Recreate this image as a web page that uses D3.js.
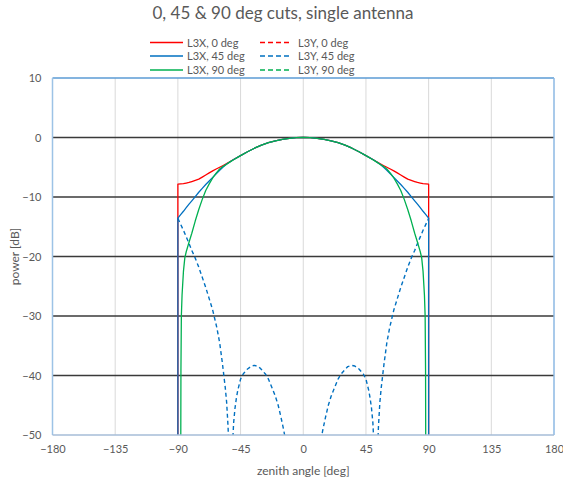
<!DOCTYPE html>
<html>
<head>
<meta charset="utf-8">
<script src="https://cdn.jsdelivr.net/npm/d3@7"></script>
<style>
  html, body { margin: 0; padding: 0; background: #fff; }
  svg { display: block; font-family: Lato, "Open Sans", sans-serif; }
</style>
</head>
<body>
<svg id="chart" width="563" height="486"></svg>
<script>
// ---------- data ----------
const title = "0, 45 & 90 deg cuts, single antenna";
const xTicks = [-180, -135, -90, -45, 0, 45, 90, 135, 180];
const yTicks = [10, 0, -10, -20, -30, -40, -50];
const xLabel = "zenith angle [deg]";
const yLabel = "power [dB]";

// L3X, 0 deg cut
const angles0 = [-90, -90, -88, -86, -84, -82, -80, -77.5, -75, -72.5, -70, -67.5, -65, -62.5, -60, -57.5, -55, -50, -45, -40, -35, -30, -25, -20, -15, -10, -5, 0,
                 5, 10, 15, 20, 25, 30, 35, 40, 45, 50, 55, 57.5, 60, 62.5, 65, 67.5, 70, 72.5, 75, 77.5, 80, 82, 84, 86, 88, 90, 90];
const l3x0 = [-60, -7.85, -7.8, -7.75, -7.65, -7.55, -7.4, -7.2, -7.0, -6.65, -6.3, -5.95, -5.6, -5.3, -5.0, -4.7, -4.4, -3.7, -3.05, -2.4, -1.8, -1.27, -0.87, -0.55, -0.3, -0.13, -0.03, 0,
              -0.03, -0.13, -0.3, -0.55, -0.87, -1.27, -1.8, -2.4, -3.05, -3.7, -4.4, -4.7, -5.0, -5.3, -5.6, -5.95, -6.3, -6.65, -7.0, -7.2, -7.4, -7.55, -7.65, -7.75, -7.8, -7.85, -60];

// L3X, 45 deg cut
const angles45 = [-90, -90, -88, -86, -84, -82, -80, -77.5, -75, -72.5, -70, -67.5, -65, -62.5, -60, -57.5, -55, -50, -45, -40, -35, -30, -25, -20, -15, -10, -5, 0,
                  5, 10, 15, 20, 25, 30, 35, 40, 45, 50, 55, 57.5, 60, 62.5, 65, 67.5, 70, 72.5, 75, 77.5, 80, 82, 84, 86, 88, 90, 90];
const l3x45 = [-60, -13.55, -12.95, -12.4, -11.8, -11.2, -10.65, -9.95, -9.2, -8.55, -7.9, -7.3, -6.7, -6.1, -5.5, -4.95, -4.45, -3.7, -3.05, -2.4, -1.8, -1.27, -0.87, -0.55, -0.3, -0.13, -0.03, 0,
               -0.03, -0.13, -0.3, -0.55, -0.87, -1.27, -1.8, -2.4, -3.05, -3.7, -4.45, -4.95, -5.5, -6.1, -6.7, -7.3, -7.9, -8.55, -9.2, -9.95, -10.65, -11.2, -11.8, -12.4, -12.95, -13.55, -60];

// L3X, 90 deg cut (falls off before 90 deg)
const angles90 = [-88, -87.8, -87.5, -87, -86, -85, -84, -82, -80, -77.5, -75, -72.5, -70, -67.5, -65, -62.5, -60, -57.5, -55, -52.5, -50, -45, -40, -35, -30, -25, -20, -15, -10, -5, 0,
                  5, 10, 15, 20, 25, 30, 35, 40, 45, 50, 52.5, 55, 57.5, 60, 62.5, 65, 67.5, 70, 72.5, 75, 77.5, 80, 82, 84, 85, 86, 87, 87.5, 87.8, 88];
const l3x90 = [-60, -39, -30, -26.5, -22.5, -20.2, -19.2, -17.6, -16.1, -14.0, -12.1, -10.4, -8.9, -7.8, -6.8, -6.0, -5.3, -4.85, -4.5, -4.1, -3.75, -3.05, -2.4, -1.8, -1.27, -0.87, -0.55, -0.3, -0.13, -0.03, 0,
               -0.03, -0.13, -0.3, -0.55, -0.87, -1.27, -1.8, -2.4, -3.05, -3.75, -4.1, -4.5, -4.85, -5.3, -6.0, -6.8, -7.8, -8.9, -10.4, -12.1, -14.0, -16.1, -17.6, -19.2, -20.2, -22.5, -26.5, -30, -39, -60];

// L3Y, 45 deg cross-pol cut (null = below -50 dB floor, line break)
const anglesY45 = [-90, -88, -86, -84, -82, -80, -78, -75, -70, -65, -62, -60, -58, -57, -56, -55, -54, -53.5, -52, -50.8, -50.3, -50, -49, -48, -47, -45, -43, -40, -37, -35, -32, -30, -27, -25, -22, -20, -18, -16, -14, -13, -12, 0,
                   12, 13, 14, 16, 18, 20, 22, 25, 27, 30, 32, 35, 37, 40, 43, 45, 47, 48, 49, 50, 50.3, 50.8, 52, 53.5, 54, 55, 56, 57, 58, 60, 62, 65, 70, 75, 78, 80, 82, 84, 86, 88, 90];
const l3y45 = [-13.6, -14.6, -15.6, -16.7, -17.8, -19.0, -20.0, -21.8, -25.2, -29.0, -32.0, -34.5, -38.0, -40.0, -42.0, -44.5, -48.5, -51.5, null, -51.5, -49.5, -48.0, -45.5, -43.8, -42.5, -40.6, -39.7, -38.9, -38.4, -38.3, -38.5, -39.0, -39.8, -40.6, -42.3, -43.5, -45.0, -47.0, -49.2, -50.5, -52, null,
               -52, -50.5, -49.2, -47.0, -45.0, -43.5, -42.3, -40.6, -39.8, -39.0, -38.5, -38.3, -38.4, -38.9, -39.7, -40.6, -42.5, -43.8, -45.5, -48.0, -49.5, -51.5, null, -51.5, -48.5, -44.5, -42.0, -40.0, -38.0, -34.5, -32.0, -29.0, -25.2, -21.8, -20.0, -19.0, -17.8, -16.7, -15.6, -14.6, -13.6];

// L3Y, 0 deg and L3Y, 90 deg cross-pol cuts lie entirely below the -50 dB floor (not visible)
const l3y0 = [];
const l3y90 = [];

const seriesNames = ["L3X, 0 deg", "L3Y, 0 deg", "L3X, 45 deg", "L3Y, 45 deg", "L3X, 90 deg", "L3Y, 90 deg"];
const seriesColors = ["#FF0000", "#FF0000", "#0070C0", "#0070C0", "#00B050", "#00B050"];
const seriesDashed = [false, true, false, true, false, true];

(function () {
// ---------- layout ----------
const svg = d3.select("#chart");
const pL = 52.5, pR = 554, pT = 78, pB = 435;
const x = d3.scaleLinear().domain([-180, 180]).range([pL, pR]);
const y = d3.scaleLinear().domain([-50, 10]).range([pB, pT]);
const textColor = "#595959";

// title
svg.append("text").attr("x", 283).attr("y", 19).attr("text-anchor", "middle")
  .attr("font-size", 17).attr("fill", textColor).text(title);

// vertical gridlines
svg.append("g").selectAll("line").data(xTicks.filter(d => d > -180 && d < 180)).join("line")
  .attr("x1", d => x(d)).attr("x2", d => x(d)).attr("y1", pT).attr("y2", pB)
  .attr("stroke", "#D9D9D9").attr("stroke-width", 1);

// horizontal gridlines
svg.append("g").selectAll("line").data(yTicks.filter(d => d < 10 && d > -50)).join("line")
  .attr("x1", pL).attr("x2", pR).attr("y1", d => y(d)).attr("y2", d => y(d))
  .attr("stroke", "#3A3A3A").attr("stroke-width", 1.4);

// axes (labels only)
const xAxis = svg.append("g").attr("transform", `translate(0,${pB + 6})`)
  .call(d3.axisBottom(x).tickValues(xTicks).tickSize(0).tickPadding(4).tickFormat(d3.format("d")));
xAxis.select(".domain").remove();
xAxis.selectAll("text").attr("font-size", 11).attr("fill", textColor).attr("font-family", "Lato, sans-serif");

const yAxis = svg.append("g").attr("transform", `translate(${pL - 11},0)`)
  .call(d3.axisLeft(y).tickValues(yTicks).tickSize(0).tickPadding(0).tickFormat(d3.format("d")));
yAxis.select(".domain").remove();
yAxis.selectAll("text").attr("font-size", 11).attr("fill", textColor).attr("font-family", "Lato, sans-serif");

// axis titles
svg.append("text").attr("x", (pL + pR) / 2).attr("y", 475).attr("text-anchor", "middle")
  .attr("font-size", 12).attr("fill", textColor).text(xLabel);
svg.append("text").attr("transform", `translate(19,${(pT + pB) / 2}) rotate(-90)`)
  .attr("text-anchor", "middle").attr("font-size", 12).attr("fill", textColor).text(yLabel);

// clip
svg.append("clipPath").attr("id", "plotclip").append("rect")
  .attr("x", pL).attr("y", pT).attr("width", pR - pL).attr("height", pB - pT);

const line = d3.line().defined(d => d[1] !== null).x(d => x(d[0])).y(d => y(d[1]));
const zip = (a, v) => v.map((d, i) => [a[i], d]);

const seriesData = [
  zip(angles0, l3x0), l3y0, zip(angles45, l3x45), zip(anglesY45, l3y45), zip(angles90, l3x90), l3y90
];

const plot = svg.append("g").attr("clip-path", "url(#plotclip)");
seriesData.forEach((data, i) => {
  if (!data.length) return;
  plot.append("path").datum(data).attr("d", line)
    .attr("fill", "none").attr("stroke", seriesColors[i])
    .attr("stroke-width", seriesDashed[i] ? 1.4 : 1.3)
    .attr("stroke-dasharray", seriesDashed[i] ? "4,3" : null)
    .attr("stroke-linejoin", "round");
});

// plot border
svg.append("line").attr("x1", pL).attr("x2", pR).attr("y1", pT).attr("y2", pT)
  .attr("stroke", "#5B9BD5").attr("stroke-width", 1.5);
svg.append("line").attr("x1", pL).attr("x2", pL).attr("y1", pT).attr("y2", pB)
  .attr("stroke", "#9DC3E6").attr("stroke-width", 1.5);
svg.append("line").attr("x1", pR).attr("x2", pR).attr("y1", pT).attr("y2", pB)
  .attr("stroke", "#8DB8E3").attr("stroke-width", 1.5);
svg.append("line").attr("x1", pL).attr("x2", pR).attr("y1", pB).attr("y2", pB)
  .attr("stroke", "#A6BDD7").attr("stroke-width", 1.5);

// legend
const legendCols = [150, 260];
const legendRows = [42.5, 56, 70];
const leg = svg.append("g");
seriesNames.forEach((name, i) => {
  const col = i % 2, row = Math.floor(i / 2);
  const lx = legendCols[col], ly = legendRows[row];
  leg.append("line").attr("x1", lx).attr("x2", lx + (col ? 32 : 33)).attr("y1", ly).attr("y2", ly)
    .attr("stroke", seriesColors[i]).attr("stroke-width", 1.4)
    .attr("stroke-dasharray", seriesDashed[i] ? "5,3" : null);
  leg.append("text").attr("x", lx + (col ? 38 : 37)).attr("y", ly + 4)
    .attr("font-size", 11).attr("fill", textColor).text(name);
});
})();
</script>
</body>
</html>
